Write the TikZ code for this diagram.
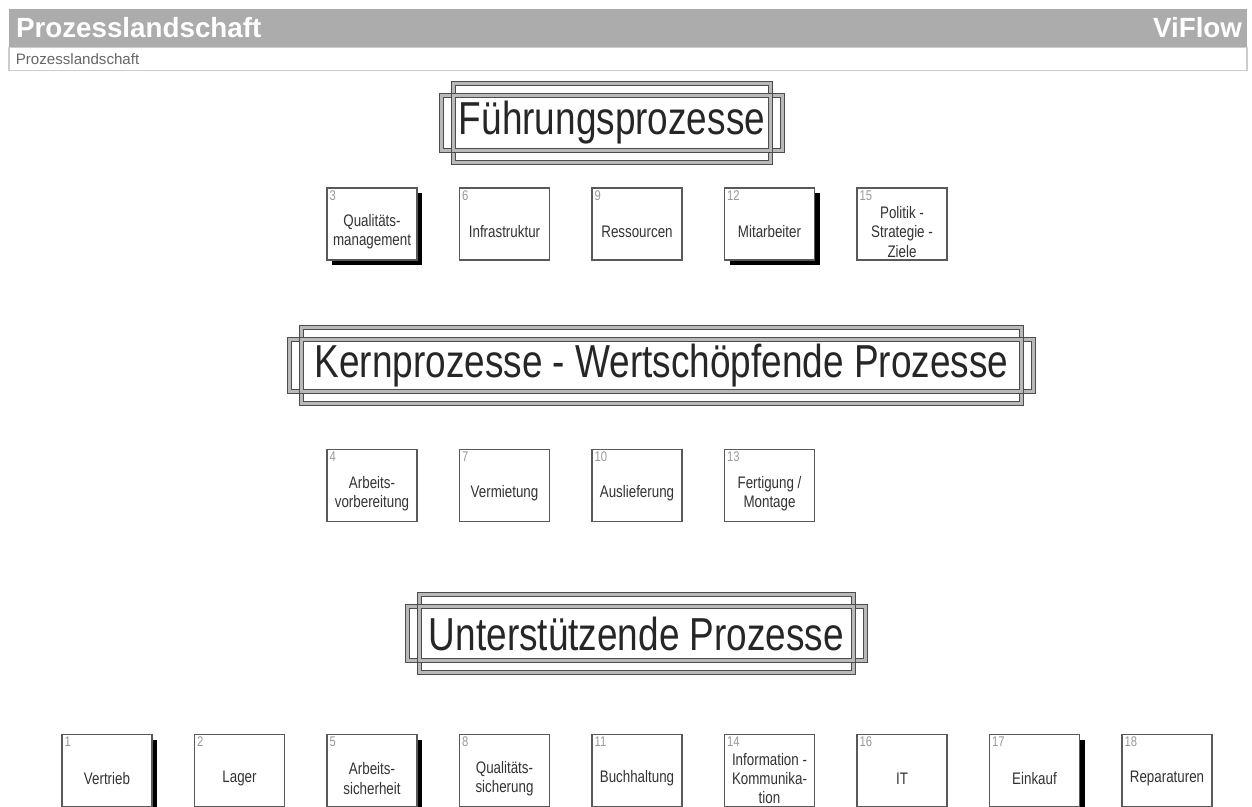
\documentclass[tikz,border=0pt]{standalone}
\usepackage{fontspec}
\setmainfont{Liberation Sans}
\newfontfamily\schmal[FakeStretch=0.8]{Liberation Sans}
\usetikzlibrary{calc,shadows}
\newlength\pxl
\setlength\pxl{0.2mm}
\definecolor{kopfgrau}{RGB}{172,172,172}
\definecolor{rahmengrau}{RGB}{185,185,185}
\newcommand{\rahmen}[1]{%
	\draw[rahmenlinie] ($(#1.north west)+(12,0)$) -- ($(#1.north east)+(-12,0)$) -- ++(0,12) -- ++(12,0) -- ($(#1.south east)+(0,-12)$) -- ++(-12,0) -- ++(0,12) -- ($(#1.south west)+(12,0)$) -- ++(0,-12) -- ++(-12,0) -- ($(#1.north west)+(0,12)$) -- ++(12,0) -- cycle;
	\draw[rahmenlinie] ($(#1.north west)+(12,12)$) rectangle ($(#1.south east)+(-12,-12)$);
}
\begin{document}
\begin{tikzpicture}[x=0.2mm,y=-0.2mm,
	prozess/.style={draw=black!65,line width=0.8pt,fill=white,minimum width=90\pxl,minimum height=72\pxl,inner sep=0pt},
	nummer/.style={anchor=north west,inner sep=0pt,xshift=3\pxl,yshift=-3\pxl,text=black!40,font=\schmal\fontsize{8}{9}\selectfont},
	bezeichnung/.style={align=center,inner sep=0pt,yshift=-8\pxl,text=black!80,font=\schmal\fontsize{9.5}{11}\selectfont},
	schatten/.style={general shadow={fill=black,shadow xshift=5\pxl,shadow yshift=-5\pxl}},
	ohne/.style={},
	titel/.style={inner sep=0pt,text=black!85,font=\schmal\fontsize{26.3}{30}\selectfont},
	rahmenlinie/.style={draw=black!70,line width=0.6pt,double=rahmengrau,double distance=1.8pt},
	kopftext/.style={inner sep=0pt,text=white,font=\bfseries\fontsize{15.8}{18}\selectfont}]
	\useasboundingbox (0,0) rectangle (1252,807);
	\node[fill=kopfgrau,minimum width=1238\pxl,minimum height=38\pxl,inner sep=0pt] (kopf) at (628,28) {};
	\node[kopftext,anchor=west] (name) at ([xshift=7\pxl]kopf.west) {Prozesslandschaft};
	\node[kopftext,anchor=east] (marke) at ([xshift=-5\pxl]kopf.east) {ViFlow};
	\node[draw=black!20,line width=0.6pt,minimum width=1238\pxl,minimum height=23\pxl,inner sep=0pt,anchor=north] (leiste) at (kopf.south) {};
	\node[anchor=west,inner sep=0pt,text=black!60,font=\fontsize{8.6}{10}\selectfont] (pfad) at ([xshift=7\pxl]leiste.west) {Prozesslandschaft};

	\node[titel,minimum width=340\pxl,minimum height=78\pxl] (fuehrung) at (612,123) {Führungsprozesse};
	\rahmen{fuehrung}
	\node[titel,minimum width=743\pxl,minimum height=75\pxl] (kern) at (661.5,365.5) {Kernprozesse - Wertschöpfende Prozesse};
	\rahmen{kern}
	\node[titel,minimum width=457\pxl,minimum height=77\pxl] (unterstuetzung) at (636.5,633.5) {Unterstützende Prozesse};
	\rahmen{unterstuetzung}

	\foreach \n/\t/\s [count=\i from 2] in {3/{Qualitäts-\\management}/schatten,6/Infrastruktur/ohne,9/Ressourcen/ohne,12/Mitarbeiter/schatten,15/{Politik -\\Strategie -\\Ziele}/ohne}{
		\node[prozess,\s] (p\n) at ({107+132.5*\i},224) {};
		\node[nummer] (n\n) at (p\n.north west) {\n};
		\node[bezeichnung] (t\n) at (p\n.center) {\t};
	}
	\foreach \n/\t/\s [count=\i from 2] in {4/{Arbeits-\\vorbereitung}/ohne,7/Vermietung/ohne,10/Auslieferung/ohne,13/{Fertigung /\\Montage}/ohne}{
		\node[prozess,\s] (p\n) at ({107+132.5*\i},485.5) {};
		\node[nummer] (n\n) at (p\n.north west) {\n};
		\node[bezeichnung] (t\n) at (p\n.center) {\t};
	}
	\foreach \n/\t/\s [count=\i from 0] in {1/Vertrieb/schatten,2/Lager/ohne,5/{Arbeits-\\sicherheit}/schatten,8/{Qualitäts-\\sicherung}/ohne,11/Buchhaltung/ohne,14/{Information -\\Kommunika-\\tion}/ohne,16/IT/ohne,17/Einkauf/schatten,18/Reparaturen/ohne}{
		\node[prozess,\s] (p\n) at ({107+132.5*\i},770.5) {};
		\node[nummer] (n\n) at (p\n.north west) {\n};
		\node[bezeichnung] (t\n) at (p\n.center) {\t};
	}
\end{tikzpicture}
\end{document}
